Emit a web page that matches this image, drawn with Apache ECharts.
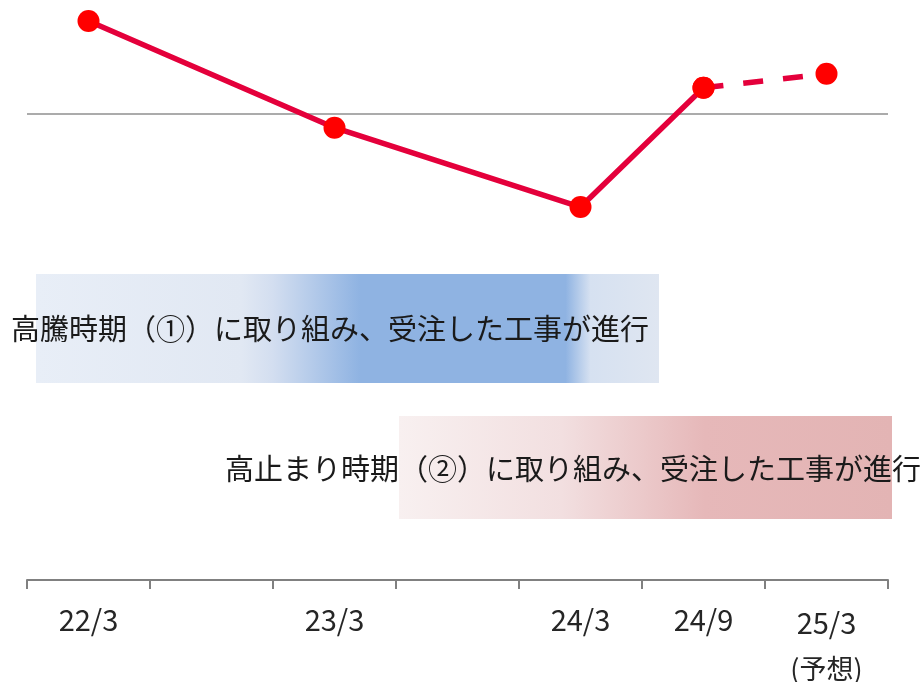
<!DOCTYPE html>
<html>
<head>
<meta charset="utf-8">
<script src="https://cdn.jsdelivr.net/npm/echarts@6/dist/echarts.min.js"></script>
<style>html,body{margin:0;padding:0;background:#fff;}#c{width:922px;height:682px;}</style>
</head>
<body>
<div id="c"></div>
<script>
const categories = ['22/3', '', '23/3', '', '24/3', '24/9', '25/3'];
const actualValues = [130, null, 95.6, null, 70, 108.5, null];
const forecastValues = [null, null, null, null, null, 108.5, 113];
const referenceValue = 100;
const phase1Text = '高騰時期（①）に取り組み、受注した工事が進行';
const phase2Text = '高止まり時期（②）に取り組み、受注した工事が進行';
const forecastNote = '(予想)';

const FONT = '"Noto Sans CJK JP", "Noto Sans", sans-serif';
const lineColor = '#e4003b';
const dotColor = '#ff0000';

const chart = echarts.init(document.getElementById('c'), null, {renderer: 'canvas'});
chart.setOption({
  animation: false,
  backgroundColor: '#fff',
  grid: {left: 27, right: 34, top: 0, bottom: 102, containLabel: false, outerBoundsMode: 'none'},
  xAxis: {
    type: 'category',
    data: categories,
    boundaryGap: true,
    axisLine: {show: true, onZero: false, lineStyle: {color: '#808080', width: 2}},
    axisTick: {show: true, length: 9, lineStyle: {color: '#808080', width: 2}},
    axisLabel: {
      interval: 0,
      margin: 18,
      color: '#262626',
      fontFamily: FONT,
      fontSize: 29,
      lineHeight: 44,
      formatter: function (v) {
        if (v === '25/3') return '{a|' + v + '}\n{b|' + forecastNote + '}';
        return v;
      },
      rich: {
        a: {fontSize: 29, lineHeight: 50, color: '#262626', fontFamily: FONT},
        b: {fontSize: 27, lineHeight: 42, color: '#262626', fontFamily: FONT}
      }
    },
    splitLine: {show: false}
  },
  yAxis: {
    type: 'value',
    min: -50.3,
    max: 136.8,
    show: false,
    splitLine: {show: false}
  },
  graphic: [
    {
      type: 'rect', z: -10, silent: true,
      shape: {x: 36, y: 274, width: 623, height: 109},
      style: {
        fill: new echarts.graphic.LinearGradient(0, 0, 1, 0, [
          {offset: 0, color: '#e8eef7'},
          {offset: 0.33, color: '#e1e8f3'},
          {offset: 0.38, color: '#d3def0'},
          {offset: 0.52, color: '#8fb3e2'},
          {offset: 0.85, color: '#8fb3e2'},
          {offset: 0.89, color: '#d6e1f1'},
          {offset: 1, color: '#dfe6f1'}
        ])
      }
    },
    {
      type: 'rect', z: -10, silent: true,
      shape: {x: 399, y: 416, width: 493, height: 103},
      style: {
        fill: new echarts.graphic.LinearGradient(0, 0, 1, 0, [
          {offset: 0, color: '#f8f0f0'},
          {offset: 0.33, color: '#f2dfe0'},
          {offset: 0.62, color: '#e6b8b9'},
          {offset: 1, color: '#e3b4b4'}
        ])
      }
    },
    {
      type: 'text', z: 10, silent: true,
      left: 11, top: 331 - 17,
      style: {text: phase1Text, fill: '#1a1a1a', font: '29px ' + FONT}
    },
    {
      type: 'text', z: 10, silent: true,
      left: 225, top: 471 - 17,
      style: {text: phase2Text, fill: '#1a1a1a', font: '29px ' + FONT}
    }
  ],
  series: [
    {
      type: 'line',
      data: actualValues,
      connectNulls: true,
      symbol: 'circle',
      symbolSize: 22,
      itemStyle: {color: dotColor},
      lineStyle: {color: lineColor, width: 5.5},
      z: 3,
      markLine: {
        silent: true,
        symbol: ['none', 'none'],
        label: {show: false},
        lineStyle: {color: '#ababab', width: 2, type: 'solid'},
        data: [{yAxis: referenceValue}],
        z: 1
      }
    },
    {
      type: 'line',
      data: forecastValues,
      symbol: 'circle',
      symbolSize: 22,
      itemStyle: {color: dotColor},
      lineStyle: {color: lineColor, width: 5.5, type: [20, 20]},
      z: 2
    }
  ]
});
</script>
</body>
</html>
